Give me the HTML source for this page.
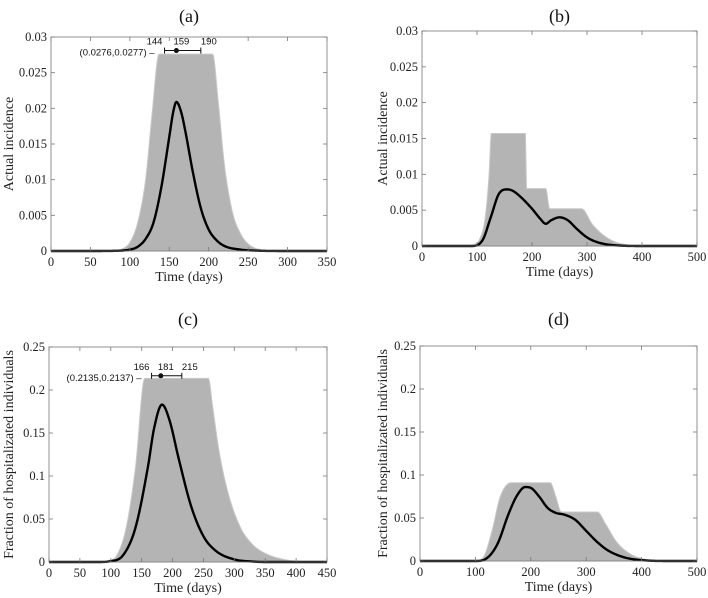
<!DOCTYPE html>
<html><head><meta charset="utf-8"><style>
body{margin:0;background:#fff;}
svg{display:block;font-family:"Liberation Serif",serif;}
</style></head><body>
<svg id="fig" width="708" height="598"></svg>
<script>
// ---- Data arrays ----
const aMeanT=[0,50,80,100,110,120,130,140,150,155,159,165,170,180,190,200,210,220,240,260,300,350];
const aMeanV=[0,0,0.00002,0.0002,0.0006,0.0017,0.004,0.009,0.016,0.0195,0.0209,0.0195,0.017,0.011,0.006,0.003,0.0015,0.0007,0.0002,0.00005,0,0];
const aEnvT=[85,100,110,120,128,137,205,212,220,230,240,250,265,285];
const aEnvV=[0,0.0012,0.004,0.01,0.019,0.0276,0.0276,0.021,0.012,0.0055,0.0025,0.001,0.0002,0];
const bMeanT=[0,90,110,125,140,155,165,180,200,215,225,235,250,265,280,300,320,350,400,500];
const bMeanV=[0,0,0.0008,0.004,0.0073,0.0079,0.0077,0.0068,0.0052,0.0038,0.0031,0.0036,0.004,0.0036,0.0025,0.0012,0.0005,0.0001,0,0];
const bEnvT=[90,105,115,122,126,188,190,225,232,290,310,330,350,370,390];
const bEnvV=[0,0.001,0.004,0.01,0.0157,0.0157,0.008,0.008,0.0052,0.0052,0.003,0.0015,0.0006,0.0002,0];
const cMeanT=[0,80,100,120,140,160,170,183,195,210,230,250,270,300,330,350,450];
const cMeanV=[0,0,0.001,0.008,0.04,0.11,0.155,0.183,0.165,0.12,0.065,0.03,0.013,0.003,0.0005,0,0];
const cEnvT=[95,110,125,140,155,258,265,275,290,310,330,350,380,410];
const cEnvV=[0,0.008,0.04,0.11,0.2135,0.2135,0.18,0.13,0.08,0.04,0.02,0.01,0.003,0];
const dMeanT=[0,100,120,140,160,175,190,200,215,230,245,260,280,300,320,340,370,400,450,500];
const dMeanV=[0,0,0.003,0.02,0.055,0.076,0.086,0.085,0.075,0.062,0.056,0.054,0.048,0.035,0.022,0.012,0.004,0.001,0,0];
const dEnvT=[100,115,130,145,165,235,245,255,320,335,355,380,405,425];
const dEnvV=[0,0.005,0.035,0.075,0.091,0.091,0.075,0.057,0.057,0.043,0.022,0.008,0.002,0];
const aXTicks=[0,50,100,150,200,250,300,350];
const bXTicks=[0,100,200,300,400,500];
const cXTicks=[0,50,100,150,200,250,300,350,400,450];
const smallYTicks=["0","0.005","0.01","0.015","0.02","0.025","0.03"];
const bigYTicks=["0","0.05","0.1","0.15","0.2","0.25"];

const NS="http://www.w3.org/2000/svg";
const svg=document.getElementById('fig');
function mk(tag,attrs,parent){const e=document.createElementNS(NS,tag);for(const k in attrs)e.setAttribute(k,attrs[k]);(parent||svg).appendChild(e);return e;}

function mono(T,V){
  const n=T.length,d=[],m=[];
  for(let i=0;i<n-1;i++)d.push((V[i+1]-V[i])/(T[i+1]-T[i]));
  for(let i=0;i<n;i++){
    if(i===0)m.push(d[0]);else if(i===n-1)m.push(d[n-2]);
    else m.push(d[i-1]*d[i]<=0?0:(d[i-1]+d[i])/2);
  }
  for(let i=0;i<n-1;i++){
    if(d[i]===0){m[i]=0;m[i+1]=0;continue;}
    const a=m[i]/d[i],b=m[i+1]/d[i],s=a*a+b*b;
    if(s>9){const t=3/Math.sqrt(s);m[i]=t*a*d[i];m[i+1]=t*b*d[i];}
  }
  return function(t){
    let i=0;while(i<n-2&&t>T[i+1])i++;
    const h=T[i+1]-T[i],u=(t-T[i])/h;
    const h00=2*u*u*u-3*u*u+1,h10=u*u*u-2*u*u+u,h01=-2*u*u*u+3*u*u,h11=u*u*u-u*u;
    return h00*V[i]+h10*h*m[i]+h01*V[i+1]+h11*h*m[i+1];
  };
}
function pathFrom(T,V,xs,ys){
  const f=mono(T,V);let d='';
  for(let i=0;i<T.length-1;i++){
    const step=(T[i+1]-T[i])/Math.max(1,Math.ceil(T[i+1]-T[i]));
    for(let t=T[i];t<T[i+1];t+=step){
      d+=(d?' L':'M')+xs(t).toFixed(2)+','+ys(Math.max(0,f(t))).toFixed(2);
    }
  }
  d+=' L'+xs(T[T.length-1]).toFixed(2)+','+ys(V[V.length-1]).toFixed(2);
  return d;
}

function panel(p){
  const g=mk('g',{});
  
  
  const xs=v=>p.x0+(v-p.xmin)/(p.xmax-p.xmin)*(p.x1-p.x0);
  const ys=v=>p.y0-(v/p.ymax)*(p.y0-p.y1);
  const d=pathFrom(p.envT,p.envV,xs,ys)+' L'+xs(p.envT[0])+','+ys(0)+' Z';
  const env=mk('path',{d:d,fill:'#b4b4b4',stroke:'#c8c8c8','stroke-width':1},g);
  
  
  const ml=mk('path',{d:pathFrom(p.meanT,p.meanV,xs,ys),fill:'none',stroke:'#000','stroke-width':2.4,'stroke-linejoin':'round'},g);
  
  
  const box=mk('rect',{x:p.x0,y:p.y1,width:p.x1-p.x0,height:p.y0-p.y1,fill:'none',stroke:'#777','stroke-width':0.8},g);
  
  
  p.xt.forEach(t=>{
    const x=xs(t);
    mk('line',{x1:x,x2:x,y1:p.y0,y2:p.y0-4,stroke:'#777','stroke-width':0.8},g);
    mk('line',{x1:x,x2:x,y1:p.y1,y2:p.y1+4,stroke:'#777','stroke-width':0.8},g);
    const tx=mk('text',{x:x,y:p.y0+15,'font-size':12.5,'text-anchor':'middle',fill:'#222'},g);
    tx.textContent=t;
    
    
  });
  p.yt.forEach((s,i)=>{
    const y=p.y0-i/(p.yt.length-1)*(p.y0-p.y1);
    mk('line',{x1:p.x0,x2:p.x0+4,y1:y,y2:y,stroke:'#777','stroke-width':0.8},g);
    mk('line',{x1:p.x1,x2:p.x1-4,y1:y,y2:y,stroke:'#777','stroke-width':0.8},g);
    const ty=mk('text',{x:p.x0-4,y:y+4,'font-size':12.5,'text-anchor':'end',fill:'#222'},g);
    ty.textContent=s;
    
    
  });
  const xl=mk('text',{x:(p.x0+p.x1)/2,y:p.y0+30,'font-size':14,'text-anchor':'middle',fill:'#222'},g);
  xl.textContent='Time (days)';
  
  
  const yl=mk('text',{x:0,y:0,'font-size':14,'text-anchor':'middle',fill:'#222',transform:'translate('+p.ylx+','+(p.y0+p.y1)/2+') rotate(-90)'},g);
  yl.textContent=p.ylabel;
  
  
  const ti=mk('text',{x:(p.x0+p.x1)/2,y:p.ty,'font-size':18,'text-anchor':'middle',fill:'#111'},g);
  ti.textContent='('+p.id+')';
  
  
  if(p.ann){
    const a=p.ann, yb=ys(a.y);
    const ag=mk('g',{},g);
    
    
    mk('line',{x1:xs(a.lo),x2:xs(a.hi),y1:yb,y2:yb,stroke:'#111','stroke-width':1},ag);
    mk('line',{x1:xs(a.lo),x2:xs(a.lo),y1:yb-3,y2:yb+3,stroke:'#111'},ag);
    mk('line',{x1:xs(a.hi),x2:xs(a.hi),y1:yb-3,y2:yb+3,stroke:'#111'},ag);
    mk('circle',{cx:xs(a.mid),cy:yb,r:2.5,fill:'#111'},ag);
    const offs=[-10,5,8];
    [a.lo,a.mid,a.hi].forEach((v,i)=>{const t=mk('text',{x:xs(v)+offs[i],y:yb-6,'font-size':9.5,'font-family':'Liberation Sans, sans-serif','text-anchor':'middle',fill:'#111'},ag);t.textContent=v;});
    const r=mk('text',{x:xs(a.lo)-10,y:yb+5,'font-size':9.5,'font-family':'Liberation Sans, sans-serif','text-anchor':'end',fill:'#111'},ag);
    r.textContent=a.range+' –';
  }
}
panel({id:'a',x0:51,x1:327,y0:251,y1:37,xmin:0,xmax:350,ymax:0.03,xt:aXTicks,yt:smallYTicks,meanT:aMeanT,meanV:aMeanV,envT:aEnvT,envV:aEnvV,ylabel:'Actual incidence',ylx:13,ty:22,ann:{lo:144,mid:159,hi:190,y:0.0281,range:'(0.0276,0.0277)'}});
panel({id:'b',x0:422,x1:697,y0:246,y1:31,xmin:0,xmax:500,ymax:0.03,xt:bXTicks,yt:smallYTicks,meanT:bMeanT,meanV:bMeanV,envT:bEnvT,envV:bEnvV,ylabel:'Actual incidence',ylx:387,ty:22});
panel({id:'c',x0:49,x1:327,y0:562,y1:347,xmin:0,xmax:450,ymax:0.25,xt:cXTicks,yt:bigYTicks,meanT:cMeanT,meanV:cMeanV,envT:cEnvT,envV:cEnvV,ylabel:'Fraction of hospitalizated individuals',ylx:13,ty:325,ann:{lo:166,mid:181,hi:215,y:0.2165,range:'(0.2135,0.2137)'}});
panel({id:'d',x0:420,x1:697,y0:561,y1:346,xmin:0,xmax:500,ymax:0.25,xt:bXTicks,yt:bigYTicks,meanT:dMeanT,meanV:dMeanV,envT:dEnvT,envV:dEnvV,ylabel:'Fraction of hospitalizated individuals',ylx:387,ty:325});
</script>
</body></html>
